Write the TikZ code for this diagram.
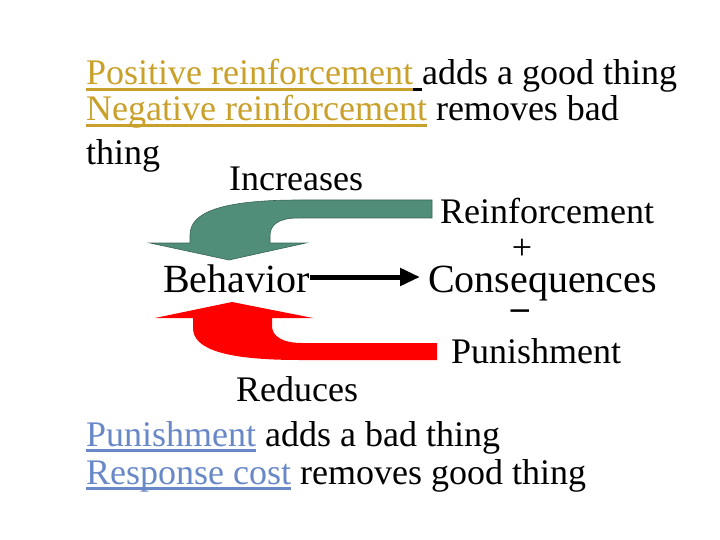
\documentclass[tikz,border=0pt]{standalone}
\usepackage{fontspec}
\setmainfont{Liberation Serif}
\usepackage{tikz}
\usetikzlibrary{arrows.meta}

\definecolor{gold}{RGB}{201,160,42}
\definecolor{linkblue}{RGB}{104,136,200}
\definecolor{teal}{RGB}{80,142,122}

\newsavebox{\ulbox}
\newcommand{\ulword}[2]{\sbox{\ulbox}{#2}\rlap{\color{#1}\rule[-6pt]{\wd\ulbox}{3.2pt}}\usebox{\ulbox}}

\begin{document}
\begin{tikzpicture}[x=1pt, y=-1pt, every node/.style={font=\fontsize{36}{36}\selectfont, inner sep=0pt, anchor=base west}, big/.style={font=\fontsize{40}{40}\selectfont}, >={Triangle[length=20pt,width=17pt]}]
	\useasboundingbox (0,0) rectangle (720,540);
	% block arrows
	\fill[teal, draw=teal!70!black, line width=0.6pt] (432,200) -- (300,200) .. controls (222,200) and (190,212) .. (190,235) -- (190,243) -- (150,243) -- (229,260) -- (306,243) -- (270,243) -- (270,236) .. controls (270,225) and (278,218) .. (298,218) -- (432,218) -- cycle;
	\fill[red] (437,343) -- (302,343) .. controls (282,343) and (272,336) .. (272,326) -- (272,318) -- (313,318) -- (232,302) -- (155,318) -- (193,318) -- (193,328) .. controls (193,350) and (228,360) .. (300,360) -- (437,360) -- cycle;
	% text
	\node (posr) at (86,85) {\textcolor{gold}{\ulword{gold}{Positive reinforcement}}\ulword{black}{\ }adds a good thing};
	\node (negr) at (86,121) {\textcolor{gold}{\ulword{gold}{Negative reinforcement}} removes bad};
	\node (thing) at (86,165) {thing};
	\node (incr) at (229,191) {Increases};
	\node (reinf) at (440,224) {Reinforcement};
	\node[anchor=base] (plus) at (522,259) {+};
	\node[big] (behavior) at (163,292) {Behavior};
	\node[big] (conseq) at (428,292) {Consequences};
	\node[anchor=base] (minus) at (520,319) {\textbf{–}};
	\node (punish) at (451,363) {Punishment};
	\node (reduce) at (236,401) {Reduces};
	\node (pun) at (86,446) {\textcolor{linkblue}{\ulword{linkblue}{Punishment}} adds a bad thing};
	\node (resp) at (86,484) {\textcolor{linkblue}{\ulword{linkblue}{Response cost}} removes good thing};
	% behavior -> consequences
	\draw[->, line width=5pt] ([yshift=15pt]behavior.base east) -- ([xshift=-8pt, yshift=15pt]conseq.base west);
\end{tikzpicture}
\end{document}
